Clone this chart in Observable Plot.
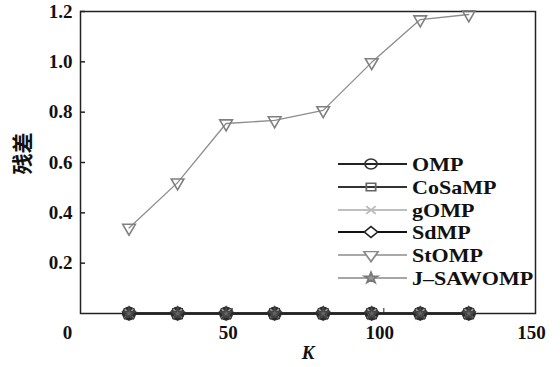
<!DOCTYPE html>
<html><head><meta charset="utf-8">
<script src="https://cdn.jsdelivr.net/npm/d3@7"></script>
<script src="https://cdn.jsdelivr.net/npm/@observablehq/plot@0.6"></script>
<style>
body{margin:0;background:#fff}
#c{position:relative;width:560px;height:367px}
#c svg.leg{position:absolute;left:0;top:0}
</style>
</head><body><div id="c"></div>
<script>
const K = [16, 32, 48, 64, 80, 96, 112, 128];
const OMP = [0, 0, 0, 0, 0, 0, 0, 0];
const CoSaMP = [0, 0, 0, 0, 0, 0, 0, 0];
const gOMP = [0, 0, 0, 0, 0, 0, 0, 0];
const SdMP = [0, 0, 0, 0, 0, 0, 0, 0];
const StOMP = [0.34, 0.52, 0.755, 0.767, 0.807, 0.998, 1.168, 1.188];
const JSAWOMP = [0, 0, 0, 0, 0, 0, 0, 0];
const seriesNames = ["OMP", "CoSaMP", "gOMP", "SdMP", "StOMP", "J–SAWOMP"];
const seriesValues = [OMP, CoSaMP, gOMP, SdMP, StOMP, JSAWOMP];
const yTicks = [0.2, 0.4, 0.6, 0.8, 1.0, 1.2];
const xTicks = [50, 100, 150];
const yLabel = "残差";
const xLabel = "K";

const styles = {
  "OMP":      {line: "#222", lw: 2,   symbol: "circle",   rotate: 0,   r: 6.3, stroke: "#333", fill: "#555", legFill: "none",  legStroke: "#333", legR: 5.5},
  "CoSaMP":   {line: "#333", lw: 2,   symbol: "square",   rotate: 0,   r: 5.2, stroke: "#333", fill: "none", legFill: "none",  legStroke: "#666", legR: 4.8},
  "gOMP":     {line: "#aaa", lw: 1.3, symbol: "times",    rotate: 0,   r: 4,   stroke: "#999", fill: "none",    legFill: "none",  legStroke: "#bbb", legR: 4},
  "SdMP":     {line: "#111", lw: 2,   symbol: "diamond2", rotate: 0,   r: 5.8, stroke: "#2a2a2a", fill: "none", legFill: "white", legStroke: "#222", legR: 5.5},
  "StOMP":    {line: "#8c8c8c", lw: 1.3, symbol: "triangle", rotate: 180, r: 4.7, stroke: "#808080", fill: "none", legFill: "white", legStroke: "#888", legR: 4.8},
  "J–SAWOMP": {line: "#888", lw: 1.3, symbol: "star",     rotate: 0,   r: 3.5, stroke: "#444", fill: "#666",    legFill: "#999",  legStroke: "#777", legR: 3.8}
};
const lineOrder = ["StOMP", "J–SAWOMP", "gOMP", "CoSaMP", "SdMP", "OMP"];
const dotOrder = ["StOMP", "OMP", "CoSaMP", "SdMP", "gOMP", "J–SAWOMP"];

const data = seriesNames.flatMap((s, i) => K.map((k, j) => ({series: s, K: k, v: seriesValues[i][j]})));

const serif = "Liberation Serif";
const marks = [];
for (const s of lineOrder) {
  const st = styles[s];
  marks.push(Plot.line(data.filter(r => r.series === s), {x: "K", y: "v", stroke: st.line, strokeWidth: st.lw}));
}
for (const s of dotOrder) {
  const st = styles[s];
  marks.push(Plot.dot(data.filter(r => r.series === s), {x: "K", y: "v", symbol: () => st.symbol, r: st.r, rotate: st.rotate,
    stroke: st.stroke, fill: st.fill, strokeWidth: 1.6}));
}

const txt = {fontFamily: serif, fontSize: 19, fontWeight: "bold", fill: "#111"};
const chart = Plot.plot({
  width: 560, height: 367,
  marginLeft: 80, marginRight: 25, marginTop: 11, marginBottom: 54,
  style: {fontFamily: serif, background: "white"},
  x: {domain: [0, 150]},
  y: {domain: [0, 1.2]},
  symbol: {type: "identity"},
  marks: [
    Plot.frame({stroke: "#222", strokeWidth: 1.5}),
    Plot.axisY({ticks: yTicks, tickSize: 0, tickPadding: 8, tickFormat: d3.format(".1f"), label: null, ...txt}),
    Plot.axisY({ticks: yTicks, tickSize: 5, dx: 5, text: null, label: null, stroke: "#222", strokeWidth: 1.5}),
    Plot.axisX({ticks: xTicks, tickSize: 0, tickPadding: 12, dx: -4, label: null, ...txt}),
    Plot.axisX({ticks: [0], tickSize: 0, tickPadding: 12, dx: -13, label: null, ...txt}),
    Plot.axisX({ticks: xTicks, tickSize: 5, dy: -5, text: null, label: null, stroke: "#222"}),
    Plot.text([yLabel], {frameAnchor: "left", dx: -57, dy: -9, rotate: -90, textAnchor: "middle", lineAnchor: "middle", text: d => d, fontSize: 21, fontWeight: "bold", fill: "#111", fontFamily: "Noto Sans CJK SC"}),
    Plot.text([xLabel], {frameAnchor: "bottom", dy: 39, textAnchor: "middle", lineAnchor: "middle", text: d => d, ...txt, fontStyle: "italic"}),
    ...marks
  ]
});
document.getElementById("c").appendChild(chart);

// Legend overlay
const leg = d3.select("#c").append("svg").attr("class", "leg").attr("width", 560).attr("height", 367);
const rowY = [164, 187, 210, 232, 255, 278];
const symMap = {circle: d3.symbolCircle, square: d3.symbolSquare, times: d3.symbolTimes, diamond2: d3.symbolDiamond2, triangle: d3.symbolTriangle, star: d3.symbolStar};
seriesNames.forEach((s, i) => {
  const st = styles[s];
  const g = leg.append("g").attr("transform", `translate(0,${rowY[i]})`);
  g.append("line").attr("x1", 338).attr("x2", 407).attr("y1", 0).attr("y2", 0).attr("stroke", st.line).attr("stroke-width", st.lw);
  g.append("path").attr("d", d3.symbol(symMap[st.symbol], Math.PI * st.legR * st.legR)())
    .attr("transform", `translate(371,0) rotate(${st.rotate}) scale(1.1,0.9)`)
    .attr("fill", st.legFill).attr("stroke", st.legStroke).attr("stroke-width", 1.6);
  g.append("text").attr("transform", "translate(412,6.5) scale(1.16,1)")
    .attr("font-family", serif).attr("font-size", 19).attr("font-weight", "bold").attr("fill", "#111").text(s);
});
</script>
</body></html>
